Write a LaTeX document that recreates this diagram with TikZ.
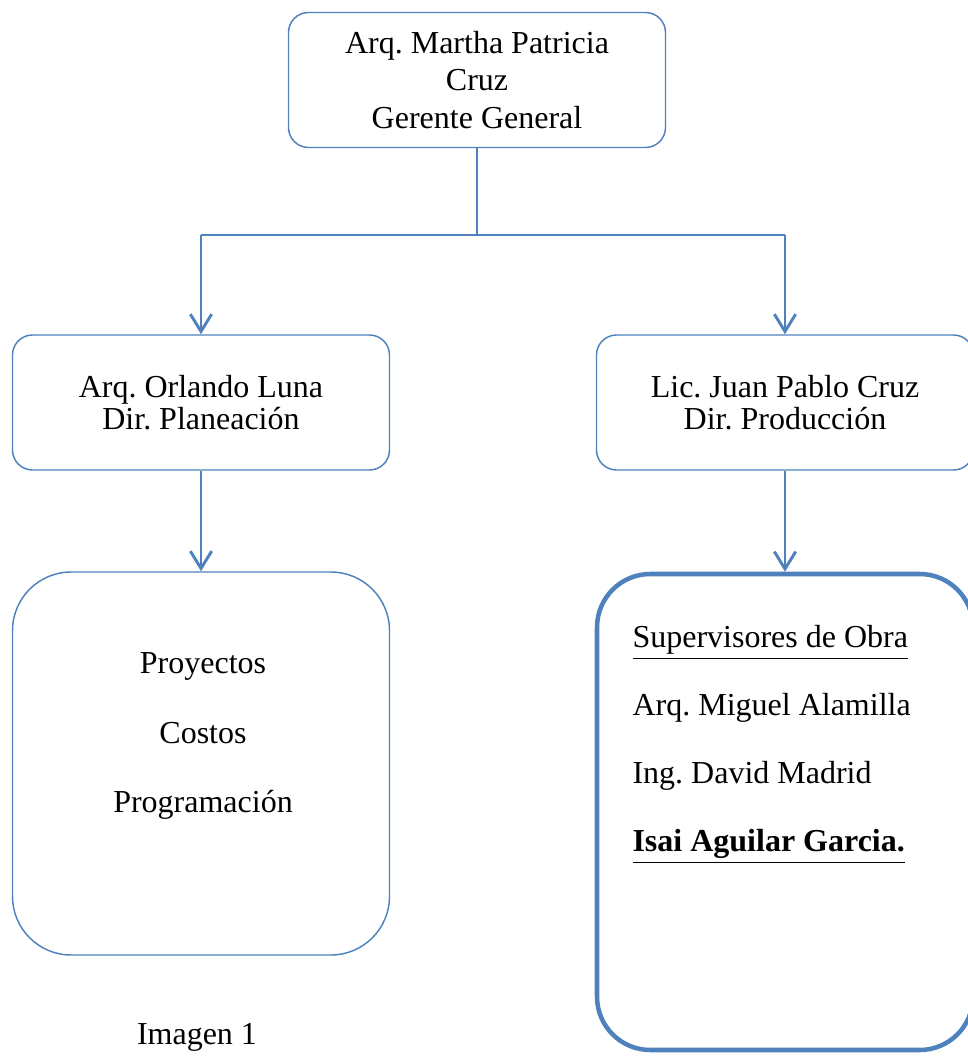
\documentclass[tikz,border=0pt]{standalone}
\usepackage{fontspec}
\setmainfont{Liberation Serif}
\usetikzlibrary{arrows.meta}
\definecolor{wordblue}{HTML}{4F81BD}
\newcommand{\px}{0.375pt}
\frenchspacing

\begin{document}
\begin{tikzpicture}[x=\px, y=-\px,
        box/.style={draw=wordblue, line width=0.55pt, rounded corners=7.5pt,
            minimum width=377*\px, minimum height=135*\px, align=center,
            font=\fontsize{12}{13.9}\selectfont},
        link/.style={wordblue, line width=0.9pt},
        arr/.style={link, -{Straight Barb[length=6.5pt,width=8pt,line width=1.1pt]}}]
        \useasboundingbox (0,0) rectangle (968,1057);

        \node[box] (gg) at (477,80) {Arq. Martha Patricia\\Cruz\\Gerente General};
        \node[box, font=\fontsize{12}{11.8}\selectfont] (pl) at (201,402.5) {Arq. Orlando Luna\\Dir. Planeaci\'on};
        \node[box, font=\fontsize{12}{11.8}\selectfont] (pr) at (785,402.5) {Lic. Juan Pablo Cruz\\Dir. Producci\'on};

        \node[box, rounded corners=22pt, minimum height=383*\px] (dep) at (201,763.5) {};
        \node[align=center, font=\fontsize{12}{25.9}\selectfont] (deplist) at (203,736)
            {Proyectos\\Costos\\Programaci\'on};

        \node[box, line width=1.7pt, rounded corners=20pt, minimum width=376*\px,
            minimum height=476*\px] (sup) at (785,812) {};
        \node[anchor=north west, inner sep=0pt, align=left,
            font=\fontsize{12}{25.5}\selectfont] (suplist) at (632,625)
            {\underline{Supervisores de Obra}\\Arq. Miguel Alamilla\\Ing. David Madrid\\
             \textbf{\underline{Isai Aguilar Garcia.}}};

        \node[font=\fontsize{12}{13.8}\selectfont] (cap) at (197,1037) {Imagen 1};

        \coordinate (bus) at (477,235);
        \coordinate (busl) at (201,235);
        \coordinate (busr) at (785,235);
        \draw[link] (gg.south) -- (bus);
        \draw[link] (busl) -- (busr);
        \draw[arr] (busl) -- (pl.north);
        \draw[arr] (busr) -- (pr.north);
        \draw[arr] (pl.south) -- (dep.north);
        \draw[arr] (pr.south) -- (sup.north);
    \end{tikzpicture}
\end{document}
